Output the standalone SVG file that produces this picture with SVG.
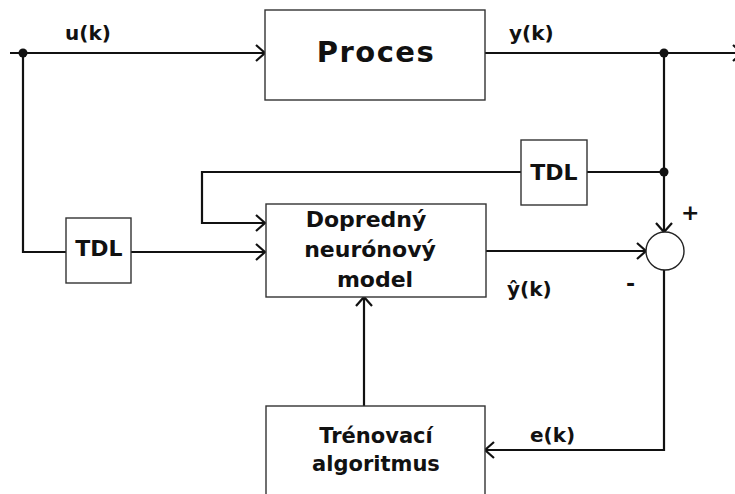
<svg xmlns="http://www.w3.org/2000/svg" width="735" height="494" viewBox="0 0 735 494">
  <style>
    .box { fill: #ffffff; stroke: #333333; stroke-width: 1.4; }
    .wire { fill: none; stroke: #111111; stroke-width: 2.2; }
    .txt { font-family: "DejaVu Sans", Verdana, sans-serif; font-weight: bold; fill: #111111; }
    .lbl { font-size: 20px; }
    .blk { font-size: 22px; }
  </style>
  <defs>
    <marker id="chev" markerUnits="userSpaceOnUse" markerWidth="14" markerHeight="20" refX="11" refY="9" orient="auto">
      <path d="M2,1 L11,9 L2,17" fill="none" stroke="#111111" stroke-width="2.2"/>
    </marker>
  </defs>

  <rect width="735" height="494" fill="#ffffff"/>

  <!-- connectors -->
  <g id="connectors">
    <!-- u(k) into the process -->
    <path class="wire" d="M10,53 H265" marker-end="url(#chev)"/>
    <!-- y(k) out of the process -->
    <path class="wire" d="M485,53 H742" marker-end="url(#chev)"/>
    <!-- u(k) branch to input TDL -->
    <path class="wire" d="M23,53 V252 H66"/>
    <!-- input TDL to model -->
    <path class="wire" d="M131,252 H265" marker-end="url(#chev)"/>
    <!-- y(k) down to the summing junction -->
    <path class="wire" d="M664,53 V232" marker-end="url(#chev)"/>
    <!-- y(k) branch to output TDL -->
    <path class="wire" d="M664,172 H587"/>
    <!-- output TDL to model -->
    <path class="wire" d="M521,172 H202 V223 H265" marker-end="url(#chev)"/>
    <!-- model output to summing junction -->
    <path class="wire" d="M486,251 H646" marker-end="url(#chev)"/>
    <!-- error to training algorithm -->
    <path class="wire" d="M664,270 V450 H485" marker-end="url(#chev)"/>
    <!-- training algorithm to model -->
    <path class="wire" d="M364,406 V297" marker-end="url(#chev)"/>
    <!-- junction dots -->
    <circle cx="23" cy="53" r="4.5" fill="#111111"/>
    <circle cx="664" cy="53" r="4.5" fill="#111111"/>
    <circle cx="664" cy="172" r="4.5" fill="#111111"/>
  </g>

  <!-- signal labels -->
  <text class="txt lbl" x="65" y="40">u(k)</text>
  <text class="txt lbl" x="509" y="40">y(k)</text>
  <text class="txt lbl" x="507" y="296">ŷ(k)</text>
  <text class="txt lbl" x="530" y="442">e(k)</text>
  <text class="txt" x="681" y="220" font-size="22">+</text>
  <text class="txt" x="626" y="291" font-size="22">-</text>

  <g id="proces">
    <rect class="box" x="265" y="10" width="220" height="90"/>
    <text class="txt" x="376" y="62" font-size="29" letter-spacing="1.5" text-anchor="middle">Proces</text>
  </g>

  <g id="tdl-input">
    <rect class="box" x="66" y="218" width="65" height="65"/>
    <text class="txt blk" x="99" y="256" text-anchor="middle">TDL</text>
  </g>

  <g id="tdl-output">
    <rect class="box" x="521" y="140" width="66" height="65"/>
    <text class="txt blk" x="554" y="180" text-anchor="middle">TDL</text>
  </g>

  <g id="model">
    <rect class="box" x="266" y="204" width="220" height="93"/>
    <text class="txt blk" x="366" y="227" text-anchor="middle">Dopredný</text>
    <text class="txt blk" x="370" y="257" text-anchor="middle">neurónový</text>
    <text class="txt blk" x="375" y="287" text-anchor="middle">model</text>
  </g>

  <g id="sum">
    <circle cx="665" cy="251" r="19" fill="#ffffff" stroke="#222222" stroke-width="1.4"/>
  </g>

  <g id="training">
    <rect class="box" x="266" y="406" width="219" height="100"/>
    <text class="txt" x="376" y="443" font-size="21" text-anchor="middle">Trénovací</text>
    <text class="txt" x="376" y="471" font-size="21" text-anchor="middle">algoritmus</text>
  </g>
</svg>
